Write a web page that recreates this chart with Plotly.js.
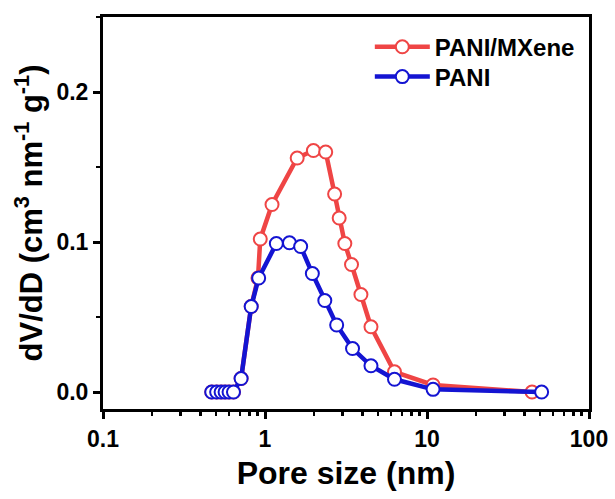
<!DOCTYPE html>
<html>
<head>
<meta charset="utf-8">
<script src="https://cdn.plot.ly/plotly-3.0.1.min.js"></script>
<style>html,body{margin:0;padding:0;background:#fff;}#chart{width:615px;height:499px;}</style>
</head>
<body>
<div id="chart"></div>
<script>
// Pore size (nm) and dV/dD (cm3 nm-1 g-1)
const poreMX = [0.469, 0.503, 0.536, 0.567, 0.600, 0.639, 0.712, 0.822, 0.905, 0.935, 1.105, 1.58, 1.99, 2.37, 2.69, 2.87, 3.11, 3.42, 3.91, 4.51, 6.3, 10.9, 44.5];
const dvMX   = [0.0, 0.0, 0.0, 0.0, 0.0, 0.0, 0.009, 0.057, 0.076, 0.102, 0.125, 0.156, 0.161, 0.160, 0.132, 0.116, 0.099, 0.085, 0.065, 0.0435, 0.0135, 0.0047, 0.0];
const porePANI = [0.469, 0.503, 0.536, 0.567, 0.600, 0.639, 0.712, 0.822, 0.914, 1.175, 1.416, 1.66, 1.96, 2.34, 2.77, 3.47, 4.51, 6.3, 10.9, 51.0];
const dvPANI   = [0.0, 0.0, 0.0, 0.0, 0.0, 0.0, 0.009, 0.057, 0.076, 0.099, 0.0995, 0.097, 0.079, 0.061, 0.0447, 0.029, 0.0175, 0.0085, 0.0018, 0.0];
const seriesNames = ['PANI/MXene', 'PANI'];
const xTickVals = [0.1, 1, 10, 100];
const xTickText = ['0.1', '1', '10', '100'];
const yTickVals = [0.0, 0.1, 0.2];
const yTickText = ['0.0', '0.1', '0.2'];

const red = '#EF4545';
const blue = '#1414D2';

const traces = [
  {x: poreMX, y: dvMX, name: seriesNames[0], type: 'scatter', mode: 'lines+markers', legend: 'legend',
   line: {color: red, width: 4.5},
   marker: {symbol: 'circle', size: 13, color: '#ffffff', line: {color: red, width: 2}}},
  {x: porePANI, y: dvPANI, name: seriesNames[1], type: 'scatter', mode: 'lines+markers', legend: 'legend2',
   line: {color: blue, width: 4.5},
   marker: {symbol: 'circle', size: 13, color: '#ffffff', line: {color: blue, width: 2}}}
];

const fam = 'Liberation Sans, Arial, sans-serif';
const legFont = {family: fam, size: 24, color: '#000', weight: 'bold'};

const layout = {
  width: 615, height: 499,
  margin: {l: 103, r: 26, t: 17, b: 90},
  paper_bgcolor: '#fff', plot_bgcolor: '#fff',
  showlegend: true,
  legend: {x: 0.549, y: 0.923, xanchor: 'left', yanchor: 'middle', font: legFont,
           bgcolor: 'rgba(0,0,0,0)', itemwidth: 55},
  legend2: {x: 0.549, y: 0.847, xanchor: 'left', yanchor: 'middle', font: legFont,
           bgcolor: 'rgba(0,0,0,0)', itemwidth: 55},
  xaxis: {
    type: 'log', range: [-1, 2],
    tickvals: xTickVals, ticktext: xTickText,
    ticks: 'outside', ticklen: 7, tickwidth: 3, tickcolor: '#000',
    minor: {ticks: 'outside', ticklen: 4, tickwidth: 2.5, tickcolor: '#000', dtick: 'D1'},
    showline: true, linewidth: 3, linecolor: '#000', mirror: true,
    showgrid: false, zeroline: false,
    tickfont: {family: fam, size: 23, color: '#000', weight: 'bold'},
    title: {text: 'Pore size (nm)', font: {family: fam, size: 32, color: '#000', weight: 'bold'}, standoff: 12}
  },
  yaxis: {
    range: [-0.0113, 0.25],
    tickvals: yTickVals, ticktext: yTickText,
    ticks: 'outside', ticklen: 7, tickwidth: 3, tickcolor: '#000',
    minor: {ticks: 'outside', ticklen: 4, tickwidth: 2.5, tickcolor: '#000', dtick: 0.05, tick0: 0},
    showline: true, linewidth: 3, linecolor: '#000', mirror: true,
    showgrid: false, zeroline: false,
    tickfont: {family: fam, size: 23, color: '#000', weight: 'bold'},
    title: {text: 'dV/dD (cm<sup>3</sup> nm<sup>-1</sup> g<sup>-1</sup>)', font: {family: fam, size: 31, color: '#000', weight: 'bold'}, standoff: 5}
  }
};

Plotly.newPlot('chart', traces, layout, {displayModeBar: false, staticPlot: true});
</script>
</body>
</html>
